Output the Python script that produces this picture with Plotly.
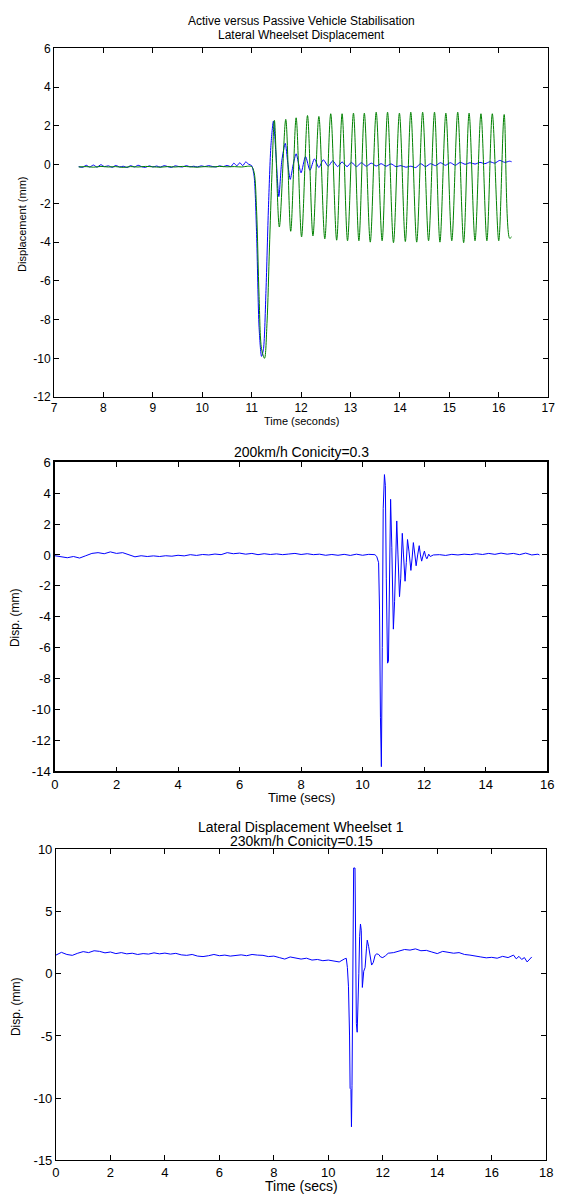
import plotly.graph_objects as go

W, H = 563, 1200
FONT = "Liberation Sans, Arial, Helvetica, sans-serif"

# ---------------- Plot 1: Active versus Passive ----------------
t_active = [7.50, 7.58, 7.65, 7.72, 7.80, 7.87, 7.95, 8.02, 8.10, 8.18,
            8.25, 8.33, 8.40, 8.48, 8.55, 8.63, 8.70, 8.78, 8.85, 8.93,
            9.00, 9.08, 9.15, 9.23, 9.30, 9.38, 9.45, 9.53, 9.60, 9.68,
            9.75, 9.83, 9.90, 9.98, 10.05, 10.13, 10.20, 10.28, 10.35, 10.43,
            10.50, 10.58, 10.64, 10.70, 10.76, 10.82, 10.88, 10.94, 11.00,
            11.05, 11.10, 11.15, 11.20, 11.24, 11.29, 11.34, 11.39, 11.44, 11.49,
            11.55, 11.61, 11.68, 11.73, 11.78, 11.84, 11.90, 11.95, 12.00, 12.09,
            12.18, 12.27, 12.36, 12.45, 12.55, 12.64, 12.74, 12.83, 12.93, 13.02,
            13.12, 13.22, 13.32, 13.42, 13.52, 13.62, 13.72, 13.82, 13.92, 14.02,
            14.12, 14.22, 14.32, 14.42, 14.52, 14.62, 14.72, 14.82, 14.92, 15.02,
            15.12, 15.22, 15.32, 15.42, 15.52, 15.62, 15.72, 15.82, 15.92, 16.02,
            16.12, 16.22, 16.26]
y_active = [-0.10, -0.14, -0.03, -0.12, -0.02, -0.13, 0.00, -0.10, -0.06, -0.14,
            -0.04, -0.12, -0.08, -0.15, -0.05, -0.12, -0.03, -0.11, -0.14, -0.06,
            -0.12, -0.07, -0.13, -0.05, -0.10, -0.14, -0.06, -0.10, -0.12, -0.05,
            -0.11, -0.08, -0.12, -0.06, -0.10, -0.05, -0.09, -0.12, -0.06, -0.10,
            -0.04, -0.10, 0.08, -0.06, 0.10, -0.05, 0.14, 0.02, -0.05,
            -0.60, -3.60, -8.40, -9.90, -9.50, -6.50, -2.20, 1.00, 2.25, 0.60,
            -1.65, 0.20, 1.10, 0.10, -0.76, 0.00, 0.56, 0.05, -0.42, 0.42,
            -0.29, 0.30, -0.15, 0.25, -0.08, 0.20, -0.10, 0.14, -0.10, 0.12,
            -0.10, 0.10, -0.08, 0.08, -0.07, 0.05, -0.08, 0.04, -0.10, -0.05,
            -0.13, -0.08, -0.15, 0.05, -0.10, 0.05, -0.05, 0.10, -0.03, 0.10,
            -0.03, 0.12, 0.02, 0.10, 0.03, 0.12, 0.05, 0.15, 0.08, 0.22,
            0.12, 0.18, 0.15]

t_passive = [7.50, 7.65, 7.80, 7.95, 8.10, 8.25, 8.40, 8.55, 8.70, 8.85,
             9.00, 9.15, 9.30, 9.45, 9.60, 9.75, 9.90, 10.05, 10.20, 10.35,
             10.50, 10.65, 10.80, 10.92, 11.00, 11.05, 11.10, 11.15, 11.20, 11.26,
             11.31, 11.36, 11.41, 11.46, 11.56, 11.69, 11.79, 11.90, 12.01, 12.13,
             12.24, 12.36, 12.48, 12.60, 12.72, 12.83, 12.94, 13.06, 13.17, 13.28,
             13.40, 13.52, 13.64, 13.75, 13.87, 13.99, 14.11, 14.22, 14.34, 14.46,
             14.58, 14.70, 14.81, 14.93, 15.05, 15.17, 15.29, 15.40, 15.52, 15.64,
             15.76, 15.87, 16.00, 16.11, 16.22, 16.26]
y_passive = [-0.12, -0.10, -0.13, -0.09, -0.12, -0.10, -0.14, -0.10, -0.12, -0.09,
             -0.11, -0.13, -0.10, -0.12, -0.09, -0.11, -0.13, -0.10, -0.12, -0.09,
             -0.11, -0.10, -0.12, -0.08, -0.10, -0.40, -2.40, -6.80, -9.50, -10.00,
             -8.20, -4.30, -0.50, 2.29, -3.22, 2.34, -3.44, 2.42, -3.73, 2.54,
             -3.68, 2.49, -3.83, 2.63, -3.90, 2.63, -3.93, 2.66, -3.93, 2.66,
             -4.00, 2.71, -3.93, 2.71, -4.03, 2.66, -3.97, 2.71, -4.00, 2.71,
             -3.93, 2.71, -4.00, 2.66, -3.93, 2.71, -4.03, 2.66, -3.93, 2.63,
             -3.93, 2.63, -3.93, 2.59, -3.80, -3.73]

x1_ticks = [7, 8, 9, 10, 11, 12, 13, 14, 15, 16, 17]
y1_ticks = [-12, -10, -8, -6, -4, -2, 0, 2, 4, 6]

# ---------------- Plot 2: 200km/h Conicity=0.3 ----------------
t_200 = [0.0, 0.2, 0.4, 0.6, 0.8, 1.0, 1.2, 1.4, 1.6, 1.8,
         2.0, 2.2, 2.4, 2.6, 2.8, 3.0, 3.2, 3.4, 3.6, 3.8,
         4.0, 4.2, 4.4, 4.6, 4.8, 5.0, 5.2, 5.4, 5.6, 5.8,
         6.0, 6.2, 6.4, 6.6, 6.8, 7.0, 7.2, 7.4, 7.6, 7.8,
         8.0, 8.2, 8.4, 8.6, 8.8, 9.0, 9.2, 9.4, 9.6, 9.8,
         10.0, 10.2, 10.4,
         10.46, 10.52, 10.55, 10.58, 10.61, 10.64, 10.67, 10.71, 10.74, 10.77,
         10.81, 10.84, 10.88, 10.91, 10.95, 11.00, 11.04, 11.11, 11.15, 11.20,
         11.24, 11.29, 11.33, 11.38, 11.42, 11.46, 11.51, 11.57, 11.61, 11.65,
         11.70, 11.74, 11.79, 11.84, 11.88, 11.92, 11.97, 12.01, 12.05, 12.09,
         12.15, 12.20,
         12.3, 12.5, 12.7, 12.9, 13.1, 13.3, 13.5, 13.7, 13.9, 14.1,
         14.3, 14.5, 14.7, 14.9, 15.1, 15.3, 15.5, 15.7, 15.75]
y_200 = [-0.05, -0.12, -0.18, -0.10, -0.20, -0.05, 0.10, 0.15, 0.08, 0.20,
         0.10, 0.15, 0.02, -0.12, -0.05, -0.10, -0.06, -0.10, -0.05, -0.08,
         -0.02, -0.06, 0.02, -0.03, 0.03, 0.00, 0.06, 0.02, 0.15, 0.08,
         0.12, 0.05, 0.10, 0.02, 0.08, 0.03, 0.07, 0.02, 0.06, 0.10,
         0.03, 0.08, 0.02, 0.05, -0.02, 0.03, -0.02, 0.04, -0.03, 0.05,
         -0.02, 0.04, 0.02,
         -0.10, -0.50, -3.50, -10.50, -13.70, -6.00, 3.00, 5.20, 4.50, -1.50,
         -7.00, -6.90, 0.00, 3.60, 0.50, -4.80, -3.00, 2.20, 0.00, -2.70,
         -1.50, 1.40, 0.00, -1.70, -0.50, 1.00, 0.20, -1.00, -0.20, 0.80,
         0.00, -0.70, 0.00, 0.60, 0.00, -0.40, 0.00, 0.25, -0.10, -0.25,
         0.05, -0.10,
         0.00, 0.02, -0.03, 0.04, 0.00, 0.05, 0.02, 0.08, 0.03, 0.10,
         0.04, 0.12, 0.05, 0.10, 0.02, 0.12, 0.00, 0.05, 0.00]

x2_ticks = [0, 2, 4, 6, 8, 10, 12, 14, 16]
y2_ticks = [-14, -12, -10, -8, -6, -4, -2, 0, 2, 4, 6]

# ---------------- Plot 3: 230km/h Conicity=0.15 ----------------
t_230 = [0.0, 0.2, 0.4, 0.6, 0.8, 1.0, 1.2, 1.4, 1.6, 1.8,
         2.0, 2.2, 2.4, 2.6, 2.8, 3.0, 3.2, 3.4, 3.6, 3.8,
         4.0, 4.2, 4.4, 4.6, 4.8, 5.0, 5.2, 5.4, 5.6, 5.8,
         6.0, 6.2, 6.4, 6.6, 6.8, 7.0, 7.2, 7.4, 7.6, 7.8,
         8.0, 8.2, 8.4, 8.6, 8.8, 9.0, 9.2, 9.4, 9.6, 9.8,
         10.0, 10.2, 10.4, 10.6,
         10.66, 10.70, 10.74, 10.78, 10.80, 10.83, 10.85, 10.87, 10.89, 10.91,
         10.93, 10.98, 11.00, 11.03, 11.06, 11.09, 11.12, 11.15, 11.18, 11.21,
         11.25, 11.30, 11.35, 11.40, 11.43, 11.48, 11.53, 11.59, 11.65, 11.72,
         11.78, 11.85, 11.92, 12.00, 12.10,
         12.2, 12.4, 12.6, 12.8, 13.0, 13.2, 13.4, 13.6, 13.8, 14.0,
         14.2, 14.4, 14.6, 14.8, 15.0, 15.2, 15.4, 15.6, 15.8, 16.0,
         16.2, 16.4, 16.6, 16.8, 16.9, 17.0, 17.1, 17.2, 17.3, 17.4, 17.47]
y_230 = [1.50, 1.72, 1.55, 1.48, 1.65, 1.78, 1.70, 1.85, 1.80, 1.68,
         1.75, 1.62, 1.70, 1.60, 1.65, 1.55, 1.62, 1.58, 1.68, 1.60,
         1.66, 1.58, 1.64, 1.52, 1.48, 1.55, 1.42, 1.38, 1.45, 1.55,
         1.45, 1.50, 1.42, 1.48, 1.52, 1.45, 1.55, 1.50, 1.48, 1.38,
         1.42, 1.30, 1.18, 1.35, 1.28, 1.18, 1.25, 1.10, 1.15, 1.05,
         1.10, 1.00, 0.95, 1.20,
         1.24, 0.50, -1.00, -5.00, -9.20, -9.30, -12.30, -9.00, 0.00, 4.00,
         8.50, 8.50, 3.00, -4.00, -4.70, -3.00, 0.00, 3.00, 4.00, 3.50,
         -1.10, 0.20, 0.50, 2.00, 2.70, 2.20, 1.50, 0.70, 0.90, 1.50,
         1.60, 1.55, 1.35, 1.30, 1.45,
         1.65, 1.70, 1.85, 1.95, 1.90, 2.00, 1.85, 1.88, 1.75, 1.62,
         1.80, 1.72, 1.65, 1.70, 1.55, 1.50, 1.40, 1.35, 1.28, 1.32,
         1.25, 1.40, 1.30, 1.50, 1.20, 1.40, 1.15, 1.30, 0.95, 1.20, 1.35]

x3_ticks = [0, 2, 4, 6, 8, 10, 12, 14, 16, 18]
y3_ticks = [-15, -10, -5, 0, 5, 10]

assert len(t_active) == len(y_active)
assert len(t_passive) == len(y_passive)
assert len(t_200) == len(y_200)
assert len(t_230) == len(y_230)

BLUE = "#0000ff"
GREEN = "#008000"

fig = go.Figure()
fig.add_trace(go.Scatter(x=t_active, y=y_active, mode="lines", xaxis="x", yaxis="y",
                         line=dict(color=BLUE, width=1, shape="spline", smoothing=0.7),
                         showlegend=False))
fig.add_trace(go.Scatter(x=t_passive, y=y_passive, mode="lines", xaxis="x", yaxis="y",
                         line=dict(color=GREEN, width=1, shape="spline", smoothing=0.9),
                         showlegend=False))
fig.add_trace(go.Scatter(x=t_200, y=y_200, mode="lines", xaxis="x2", yaxis="y2",
                         line=dict(color=BLUE, width=1), showlegend=False))
fig.add_trace(go.Scatter(x=t_230, y=y_230, mode="lines", xaxis="x3", yaxis="y3",
                         line=dict(color=BLUE, width=1), showlegend=False))


def px_x(p):
    return p / W


def px_y(p):
    return 1 - p / H


def ax(domain, rng, ticks, anchor, size, lw=1):
    return dict(domain=domain, range=rng, tickmode="array", tickvals=ticks,
                ticktext=[str(v) for v in ticks], anchor=anchor,
                showgrid=False, zeroline=False, showline=True, linecolor="black",
                linewidth=lw, mirror="ticks", ticks="inside", ticklen=5,
                tickcolor="black", tickwidth=1, ticklabeloverflow="allow",
                tickfont=dict(family=FONT, size=size, color="black"))


fig.update_layout(
    width=W, height=H, margin=dict(l=0, r=0, t=0, b=0),
    paper_bgcolor="white", plot_bgcolor="white",
    xaxis=ax([px_x(51), px_x(555)], [7, 17], x1_ticks, "y", 12),
    yaxis=ax([px_y(395), px_y(42)], [-12, 6], y1_ticks, "x", 12),
    xaxis2=ax([px_x(52), px_x(554)], [0, 16], x2_ticks, "y2", 13, 1.5),
    yaxis2=ax([px_y(774), px_y(461)], [-14, 6], y2_ticks, "x2", 13, 1.5),
    xaxis3=ax([px_x(53), px_x(553)], [0, 18], x3_ticks, "y3", 13),
    yaxis3=ax([px_y(1168), px_y(853)], [-15, 10], y3_ticks, "x3", 13),
)


def note(text, x, y, size, angle=0):
    return dict(text=text, x=px_x(x), y=px_y(y), xref="paper", yref="paper",
                xanchor="center", yanchor="middle", showarrow=False,
                textangle=angle, font=dict(family=FONT, size=size, color="black"))


fig.update_layout(annotations=[
    note("Active versus Passive Vehicle Stabilisation", 303, 14, 12),
    note("Lateral Wheelset Displacement", 303, 28, 12),
    note("Time (seconds)", 303, 419, 11),
    note("Displacement (mm)", 19, 220, 11, -90),
    note("200km/h Conicity=0.3", 303, 451, 14),
    note("Time (secs)", 303, 800, 13),
    note("Disp. (mm)", 11, 618, 12, -90),
    note("Lateral Displacement Wheelset 1", 303, 830, 14),
    note("230km/h Conicity=0.15", 303, 845, 14),
    note("Time (secs)", 303, 1194, 14),
    note("Disp. (mm)", 13, 1012, 12, -90),
])

fig.write_html(
    "out.html",
    config={"displayModeBar": False},
    post_script="document.body.style.margin='0';document.body.style.padding='0';"
                "document.documentElement.style.overflow='hidden';"
                "document.body.style.overflow='hidden';",
)
